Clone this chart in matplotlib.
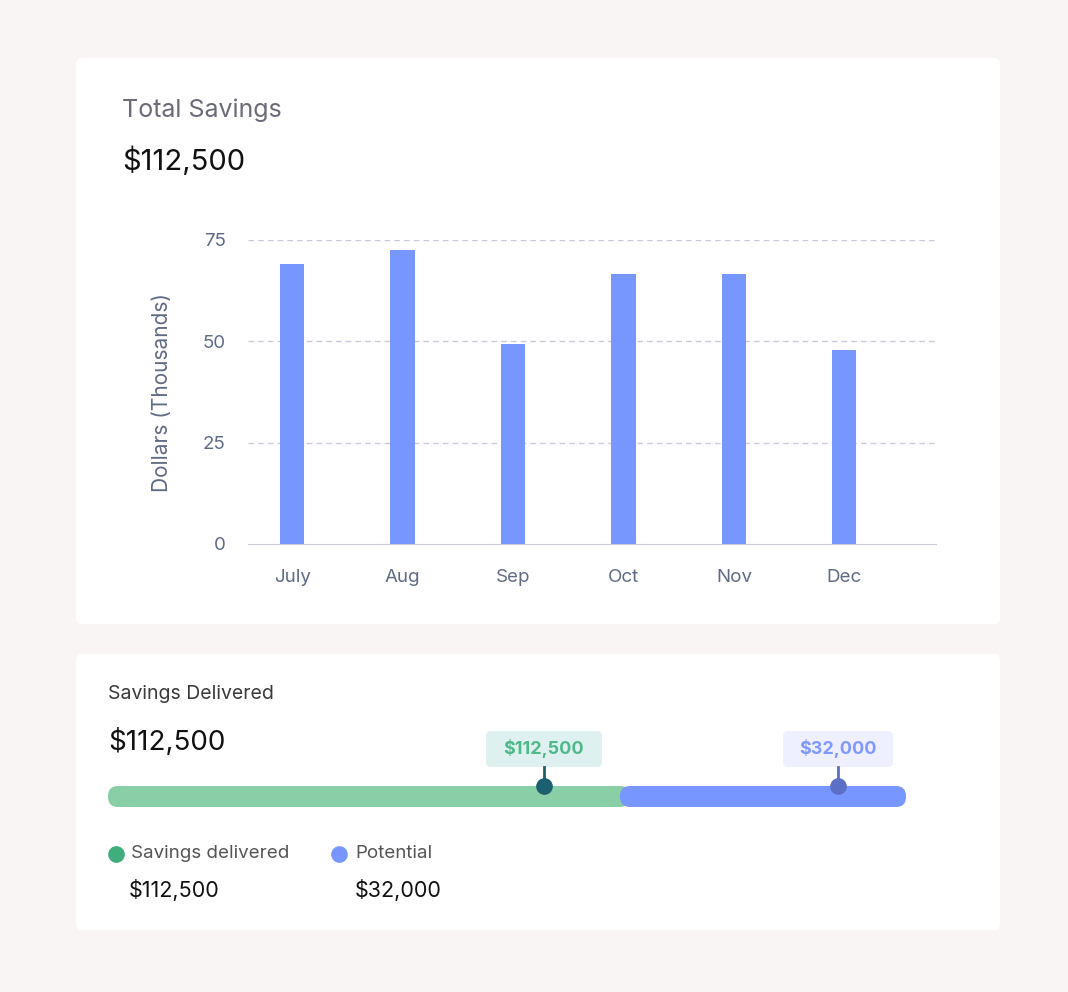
import matplotlib
matplotlib.use("Agg")
import matplotlib.pyplot as plt
from matplotlib.patches import FancyBboxPatch
import numpy as np

plt.rcParams['font.family'] = ['Inter', 'DejaVu Sans']

months = ["July", "Aug", "Sep", "Oct", "Nov", "Dec"]
savings = [69, 72.6, 49.4, 66.7, 66.7, 47.9]
yticks = [0, 25, 50, 75]
delivered = 112500
potential = 32000
total_label = "$112,500"

W, H = 1068, 992
fig = plt.figure(figsize=(W/100, H/100), dpi=100, facecolor="#f9f5f5")
bg = fig.add_axes([0, 0, 1, 1])
bg.set_xlim(0, W); bg.set_ylim(H, 0); bg.axis("off")

def rbox(x, y, w, h, fc, r=6, ec="none", z=1):
    bg.add_patch(FancyBboxPatch((x+r, y+r), w-2*r, h-2*r, boxstyle=f"round,pad={r}",
                                fc=fc, ec=ec, zorder=z))

rbox(76, 58, 924, 566, "white")
rbox(76, 654, 924, 276, "white")

bg.text(122, 110, "Total Savings", fontsize=18, color="#6b6b78", va="center")
bg.text(122, 161, total_label, fontsize=21, color="#111111", va="center")

# bar chart
ax = fig.add_axes([248/W, 1-544/H, (936-248)/W, (544-240)/H])
x = np.arange(len(months))
ax.bar(x, savings, width=0.22, color="#7896ff", zorder=3)
ax.set_xlim(-0.4, 5.83)
ax.set_ylim(0, 75)
ax.set_yticks(yticks)
ax.set_xticks(x, months)
ax.tick_params(length=0, labelsize=13.5, colors="#5f6b85")
ax.tick_params(axis="y", pad=16)
ax.tick_params(axis="x", pad=18)
for t in yticks[1:]:
    ax.axhline(t, color="#c9cbdc", lw=1, ls=(0, (4, 3)), zorder=1)
for s in ["top", "right", "left"]:
    ax.spines[s].set_visible(False)
ax.spines["bottom"].set_color("#c9ccd8")
ax.set_facecolor("none")
ax.set_ylabel("Dollars (Thousands)", fontsize=15, color="#5f6b85", labelpad=22)

# bottom card
bg.text(108, 694, "Savings Delivered", fontsize=14, color="#3a3a3a", va="center")
bg.text(108, 742, total_label, fontsize=20, color="#111111", va="center")

x0, x1, yb, hb = 108, 906, 786, 21
split = 620
bg.add_patch(FancyBboxPatch((x0+10, yb), split-x0, hb-0.001, boxstyle="round,pad=0,rounding_size=10",
                            fc="#88cfa8", ec="none", zorder=2))
bg.add_patch(FancyBboxPatch((x0, yb), 30, hb, boxstyle="round,pad=0,rounding_size=10",
                            fc="#88cfa8", ec="none", zorder=2))
bg.add_patch(FancyBboxPatch((split, yb), x1-split, hb, boxstyle="round,pad=0,rounding_size=10",
                            fc="#7896ff", ec="none", zorder=3))

def marker(xc, col, lbl, boxfc, txtc, bw):
    rbox(xc-bw/2, 731, bw, 36, boxfc, r=5, z=4)
    bg.text(xc, 749, lbl, fontsize=13, color=txtc, weight="bold", ha="center", va="center", zorder=5)
    bg.plot([xc, xc], [767, 786], color=col, lw=2, zorder=5)
    bg.plot(xc, 786, "o", ms=11, color=col, zorder=6)

marker(544, "#1c5f6e", f"${delivered:,}", "#dff0f0", "#4fb98a", 116)
marker(838, "#5b6fc7", f"${potential:,}", "#eef0ff", "#7f98ff", 110)

bg.plot(116, 854, "o", ms=11, color="#3fae7c")
bg.text(131, 854, "Savings delivered", fontsize=13.5, color="#555555", va="center")
bg.text(129, 890, f"${delivered:,}", fontsize=15.5, color="#111111", va="center")
bg.plot(339, 854, "o", ms=11, color="#7896ff")
bg.text(355, 854, "Potential", fontsize=13.5, color="#555555", va="center")
bg.text(355, 890, f"${potential:,}", fontsize=15.5, color="#111111", va="center")

fig.savefig("out.png", dpi=100, facecolor=fig.get_facecolor())
